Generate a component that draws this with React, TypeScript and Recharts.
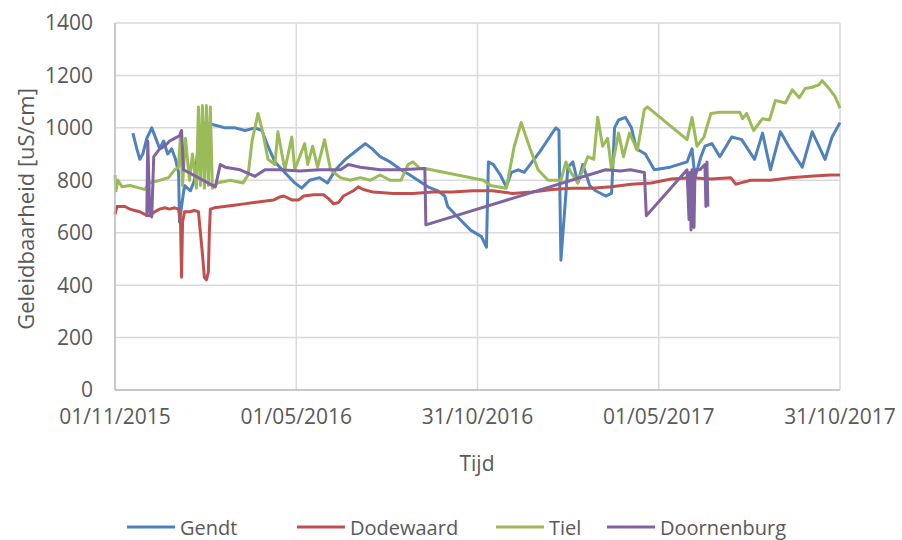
import { CartesianGrid, Line, LineChart, XAxis, YAxis } from "recharts";

// x = days since 01/11/2015, y = conductivity in uS/cm
const tickDays = [0, 182.5, 365, 547.5, 730];
const tickLabels = ["01/11/2015", "01/05/2016", "31/10/2016", "01/05/2017", "31/10/2017"];
const yTicks = [0, 200, 400, 600, 800, 1000, 1200, 1400];

const gendt = [
  [18, 980], [22, 920], [25, 880], [28, 900], [32, 960], [37, 1000], [41, 960], [45, 920],
  [49, 950], [53, 900], [57, 920], [61, 880], [64, 830], [65, 640], [67, 700], [70, 780],
  [76, 760], [80, 800], [83, 900], [86, 1000], [91, 1020], [101, 1010], [111, 1000], [121, 1000],
  [131, 990], [141, 1000], [148, 990], [154, 930], [161, 870], [171, 830], [181, 790], [188, 770],
  [196, 800], [206, 810], [214, 790], [222, 840], [232, 880], [242, 910], [252, 940], [259, 920],
  [267, 890], [277, 870], [288, 840], [297, 820], [305, 800], [315, 775], [325, 760], [332, 740],
  [335, 700], [345, 660], [358, 610], [369, 585], [374, 545], [376, 870], [381, 860], [388, 820],
  [394, 775], [399, 830], [406, 840], [412, 830], [428, 910], [442, 990], [444, 1000], [447, 990],
  [449, 495], [456, 850], [461, 870], [466, 790], [471, 860], [478, 780], [484, 760], [494, 740],
  [500, 750], [503, 1000], [507, 1030], [514, 1040], [520, 1000], [525, 920], [534, 900], [543, 840],
  [559, 850], [576, 870], [581, 920], [584, 810], [590, 890], [594, 930], [601, 940], [609, 890],
  [621, 965], [631, 955], [644, 880], [652, 980], [660, 840], [670, 985], [679, 925], [692, 850],
  [702, 985], [715, 880], [722, 965], [730, 1020],
];

const dodewaard = [
  [0, 670], [2, 700], [10, 700], [15, 690], [20, 685], [25, 680], [30, 670], [35, 665],
  [40, 680], [45, 690], [50, 695], [55, 690], [60, 695], [64, 690], [66, 640], [67, 430],
  [68, 640], [70, 680], [75, 680], [80, 685], [84, 680], [86, 600], [88, 520], [90, 430],
  [92, 420], [94, 450], [95, 600], [96, 690], [100, 695], [110, 700], [120, 705], [130, 710],
  [140, 715], [150, 720], [160, 725], [165, 735], [170, 740], [178, 725], [185, 725], [190, 740],
  [200, 745], [210, 745], [215, 730], [220, 710], [225, 715], [230, 740], [240, 760], [245, 775],
  [250, 765], [260, 755], [280, 750], [300, 750], [320, 755], [340, 755], [360, 760], [380, 760],
  [400, 750], [420, 755], [440, 765], [460, 770], [480, 770], [500, 775], [520, 785], [540, 790],
  [560, 805], [580, 810], [600, 805], [620, 810], [625, 785], [630, 790], [640, 800], [660, 800],
  [680, 810], [700, 815], [720, 820], [730, 820],
];

const tiel = [
  [0, 820], [1, 760], [3, 800], [7, 775], [15, 780], [25, 770], [30, 765], [35, 790],
  [45, 800], [54, 810], [60, 840], [64, 850], [66, 980], [68, 780], [71, 960], [75, 800],
  [78, 900], [82, 770], [84, 1080], [86, 780], [88, 1085], [90, 770], [92, 1085], [94, 780],
  [96, 1080], [98, 770], [103, 790], [116, 800], [129, 790], [134, 820], [138, 950], [144, 1055],
  [149, 980], [154, 880], [161, 860], [164, 985], [171, 840], [178, 965], [181, 840], [191, 940],
  [194, 860], [199, 930], [204, 850], [211, 955], [217, 840], [227, 810], [237, 800], [247, 810],
  [257, 800], [267, 820], [277, 800], [288, 800], [295, 860], [300, 870], [307, 845], [312, 845],
  [371, 800], [378, 780], [394, 770], [402, 930], [409, 1020], [418, 920], [426, 840], [436, 800],
  [449, 800], [454, 870], [459, 830], [466, 790], [476, 890], [482, 880], [486, 1040], [491, 930],
  [496, 960], [500, 840], [507, 980], [512, 890], [518, 980], [526, 915], [533, 1070], [536, 1080],
  [576, 955], [581, 1040], [586, 930], [593, 965], [600, 1055], [609, 1060], [629, 1060], [632, 1035],
  [636, 1055], [643, 990], [652, 1035], [659, 1030], [665, 1105], [675, 1095], [682, 1145], [689, 1115],
  [695, 1150], [702, 1155], [709, 1165], [712, 1180], [719, 1150], [725, 1120], [730, 1075],
];

const doornenburg = [
  [32, 660], [33, 950], [35, 680], [37, 660], [39, 890], [45, 920], [50, 930], [55, 950],
  [60, 960], [65, 970], [67, 990], [69, 840], [101, 775], [106, 860], [111, 850], [126, 840],
  [141, 815], [151, 840], [166, 840], [186, 835], [206, 840], [227, 840], [235, 860], [247, 850],
  [267, 840], [287, 840], [312, 845], [313, 630], [494, 840], [509, 835], [519, 840], [533, 830],
  [535, 665], [576, 840], [578, 650], [579, 830], [580, 610], [581, 840], [583, 620], [584, 840],
  [589, 840], [594, 860], [595, 700], [596, 870], [597, 700],
];

const series = [
  { name: "Gendt", color: "#4F81BD", points: gendt },
  { name: "Dodewaard", color: "#C0504D", points: dodewaard },
  { name: "Tiel", color: "#9BBB59", points: tiel },
  { name: "Doornenburg", color: "#8064A2", points: doornenburg },
];

const legendLeft = [127, 297, 496, 607];
const textColor = "#595959";

function formatDay(v: number) {
  const i = tickDays.indexOf(v);
  return i >= 0 ? tickLabels[i] : "";
}

export default function App() {
  return (
    <div
      style={{
        position: "absolute",
        left: 0,
        top: 0,
        width: 902,
        height: 540,
        background: "#fff",
        fontFamily: '"Open Sans", sans-serif',
      }}
    >
      <LineChart width={902} height={540} margin={{ top: 23, right: 62, bottom: 110, left: 55 }}>
        <CartesianGrid stroke="#d9d9d9" strokeWidth={1.5} />
        <XAxis
          type="number"
          dataKey="day"
          domain={[0, 730]}
          ticks={tickDays}
          tickFormatter={formatDay}
          height={40}
          axisLine={{ stroke: "#bfbfbf", strokeWidth: 1.5 }}
          tickLine={false}
          tickMargin={13}
          tick={{ fill: textColor, fontSize: 21 }}
        />
        <YAxis
          type="number"
          domain={[0, 1400]}
          ticks={yTicks}
          width={60}
          axisLine={{ stroke: "#bfbfbf", strokeWidth: 1.5 }}
          tickLine={false}
          tickMargin={16}
          tick={{ fill: textColor, fontSize: 21 }}
        />
        {series.map((s) => (
          <Line
            key={s.name}
            name={s.name}
            data={s.points.map(([day, value]) => ({ day, value }))}
            dataKey="value"
            stroke={s.color}
            strokeWidth={3}
            strokeLinejoin="round"
            dot={false}
            isAnimationActive={false}
          />
        ))}
      </LineChart>
      <div
        style={{
          position: "absolute",
          left: 25,
          top: 209,
          transform: "translate(-50%, -50%) rotate(-90deg)",
          whiteSpace: "nowrap",
          color: textColor,
          fontSize: 22,
        }}
      >
        Geleidbaarheid [uS/cm]
      </div>
      <div
        style={{
          position: "absolute",
          left: 477,
          top: 463,
          transform: "translate(-50%, -50%)",
          color: textColor,
          fontSize: 21,
        }}
      >
        Tijd
      </div>
      {series.map((s, i) => (
        <div
          key={s.name}
          style={{
            position: "absolute",
            left: legendLeft[i],
            top: 527,
            transform: "translateY(-50%)",
            display: "flex",
            alignItems: "center",
            gap: 5,
            color: textColor,
            fontSize: 20,
            whiteSpace: "nowrap",
          }}
        >
          <div style={{ width: 48, height: 3, background: s.color }} />
          <span>{s.name}</span>
        </div>
      ))}
    </div>
  );
}
